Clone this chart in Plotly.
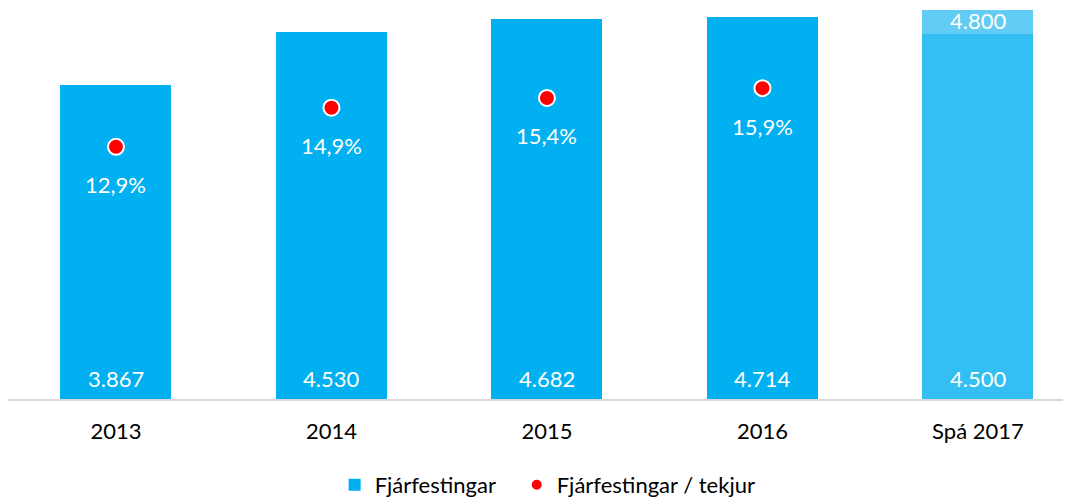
import plotly.graph_objects as go

categories = ["2013", "2014", "2015", "2016", "Spá 2017"]
investments = [3867, 4530, 4682, 4714, 4500]
forecast_extra = [None, None, None, None, 300]
forecast_total = [None, None, None, None, 4800]
ratio_pct = [12.9, 14.9, 15.4, 15.9, None]

def fmt_int(v):
    return f"{v:,}".replace(",", ".")

def fmt_pct(v):
    return f"{v:.1f}%".replace(".", ",")

FONT = "Lato, Carlito, Calibri, sans-serif"
FS = 22
bar_colors = ["#00B0F0"] * 4 + ["#33BFF2"]

fig = go.Figure()
fig.add_trace(go.Bar(
    x=categories, y=investments, name="Fjárfestingar",
    marker=dict(color=bar_colors, line=dict(width=0)),
    width=0.515, showlegend=True, legend="legend",
))
fig.add_trace(go.Bar(
    x=categories, y=forecast_extra, name="Spá viðbót",
    marker=dict(color="#63CCF4", line=dict(width=0)),
    width=0.515, showlegend=False, hoverinfo="skip",
))
fig.add_trace(go.Scatter(
    x=categories[:4], y=ratio_pct[:4], name="Fjárfestingar / tekjur",
    mode="markers", yaxis="y2", legend="legend2",
    marker=dict(color="#FF0000", size=16, line=dict(color="white", width=2)),
))

annotations = []
for i, v in enumerate(investments):
    annotations.append(dict(x=i, xref="x", y=0, yref="y", text=fmt_int(v), showarrow=False,
                            yshift=21, font=dict(family=FONT, size=FS, color="white")))
for i, (v, t) in enumerate(zip(forecast_extra, forecast_total)):
    if v is not None:
        annotations.append(dict(x=i, xref="x", y=t, yref="y", text=fmt_int(t), showarrow=False,
                                yshift=-11, font=dict(family=FONT, size=FS, color="white")))
for i, p in enumerate(ratio_pct):
    if p is not None:
        annotations.append(dict(x=i, xref="x", y=p, yref="y2", text=fmt_pct(p), showarrow=False,
                                yshift=-38, font=dict(family=FONT, size=FS, color="white")))

legend_common = dict(orientation="h", y=-0.22, yanchor="middle", xanchor="left",
                     font=dict(size=FS), itemsizing="constant", bgcolor="rgba(0,0,0,0)")

fig.update_layout(
    width=1071, height=499,
    margin=dict(l=0, r=0, t=0, b=108),
    plot_bgcolor="white", paper_bgcolor="white",
    barmode="stack", bargap=0.485,
    font=dict(family=FONT, size=FS, color="#000000"),
    xaxis=dict(range=[-0.501, 4.469], showgrid=False, showline=True,
               linecolor="#D9D9D9", linewidth=2, ticks="", tickfont=dict(size=FS),
               ticklabelstandoff=12),
    yaxis=dict(range=[0, 4820], visible=False, showgrid=False),
    yaxis2=dict(range=[0, 20.0], overlaying="y", visible=False, showgrid=False),
    legend=dict(x=0.305, **legend_common),
    legend2=dict(x=0.475, **legend_common),
    annotations=annotations,
    showlegend=True,
)

fig.write_html("out.html")
